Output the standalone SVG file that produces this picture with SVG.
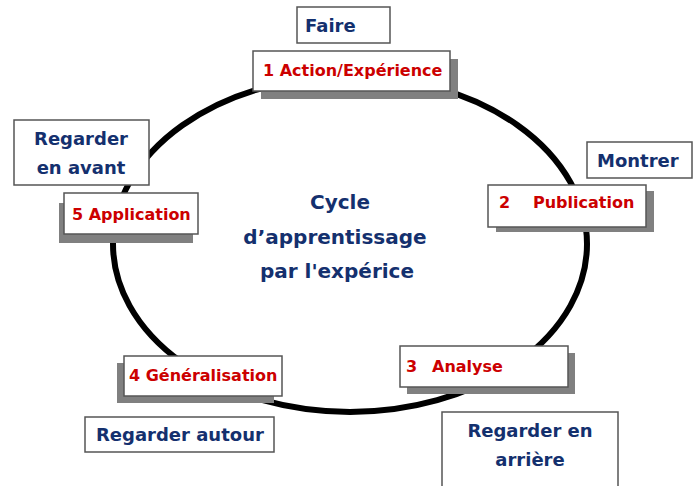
<svg xmlns="http://www.w3.org/2000/svg" width="699" height="486" viewBox="0 0 699 486">
<style>
.box{fill:#fff;stroke:#555;stroke-width:1.5}
.sh{fill:#808080}
.red{fill:#cc0000;font-family:"DejaVu Sans",sans-serif;font-weight:bold;font-size:16px}
.blue{fill:#14306e;font-family:"DejaVu Sans",sans-serif;font-weight:bold;font-size:18px}
.title{fill:#14306e;font-family:"DejaVu Sans",sans-serif;font-weight:bold;font-size:20px;text-anchor:middle}
</style>
<rect width="699" height="486" fill="#fff"/>
<g id="connectors">
<ellipse cx="350" cy="244" rx="237" ry="168" fill="none" stroke="#000" stroke-width="6"/>
</g>
<g id="center">
<text class="title" x="340" y="209">Cycle</text>
<text class="title" x="335" y="244">d’apprentissage</text>
<text class="title" x="337" y="278">par l'expérice</text>
</g>
<g id="faire">
<rect class="box" x="297" y="7" width="93" height="36"/>
<text class="blue" x="305" y="32">Faire</text>
</g>
<g id="action">
<rect class="sh" x="261" y="59" width="197" height="40"/>
<rect class="box" x="253" y="51" width="197" height="40"/>
<text class="red" x="263" y="76">1 Action/Expérience</text>
</g>
<g id="regarder-avant">
<rect class="box" x="14" y="120" width="135" height="65"/>
<text class="blue" x="81" y="145" text-anchor="middle">Regarder</text>
<text class="blue" x="81" y="174" text-anchor="middle">en avant</text>
</g>
<g id="application">
<rect class="sh" x="59" y="203" width="134" height="40"/>
<rect class="box" x="64" y="193" width="134" height="41"/>
<text class="red" x="72" y="220">5 Application</text>
</g>
<g id="montrer">
<rect class="box" x="587" y="142" width="105" height="36"/>
<text class="blue" x="597" y="167">Montrer</text>
</g>
<g id="publication">
<rect class="sh" x="496" y="191" width="158" height="41"/>
<rect class="box" x="488" y="185" width="158" height="42"/>
<text class="red" x="499" y="208">2<tspan x="533">Publication</tspan></text>
</g>
<g id="analyse">
<rect class="sh" x="407" y="353" width="168" height="41"/>
<rect class="box" x="400" y="346" width="168" height="41"/>
<text class="red" x="406" y="372">3<tspan x="432">Analyse</tspan></text>
</g>
<g id="regarder-arriere">
<rect class="box" x="442" y="412" width="176" height="90"/>
<text class="blue" x="530" y="437" text-anchor="middle">Regarder en</text>
<text class="blue" x="530" y="466" text-anchor="middle">arrière</text>
</g>
<g id="generalisation">
<rect class="sh" x="117" y="363" width="157" height="40"/>
<rect class="box" x="124" y="356" width="158" height="40"/>
<text class="red" x="129" y="381">4 Généralisation</text>
</g>
<g id="regarder-autour">
<rect class="box" x="85" y="417" width="189" height="35"/>
<text class="blue" x="96" y="441">Regarder autour</text>
</g>
</svg>
